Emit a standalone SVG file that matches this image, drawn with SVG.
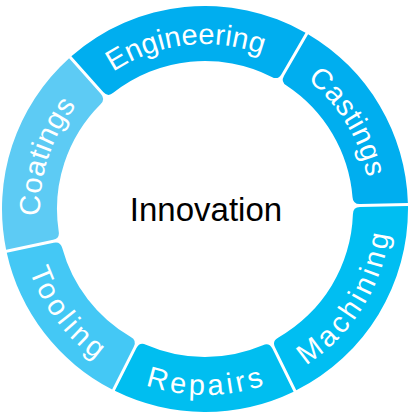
<svg xmlns="http://www.w3.org/2000/svg" width="408" height="413" viewBox="0 0 408 413">
<style>
.lbl{font-family:"Liberation Sans",Arial,Helvetica,sans-serif;font-size:29px;fill:#ffffff;text-anchor:middle}
.cwt{letter-spacing:0.6px}
.ccwt{letter-spacing:3.5px}
.center{font-family:"Liberation Sans",Arial,Helvetica,sans-serif;font-size:33px;fill:#000000;text-anchor:middle}
</style>
<defs>
<path id="cw" d="M0,-165 A165,165 0 0 1 0,165"/>
<path id="ccw" d="M0,186 A186,186 0 0 0 0,-186"/>
</defs>
<rect width="408" height="413" fill="#ffffff"/>
<g id="engineering">
<path transform="translate(205 209) rotate(-131.6)" fill="#00AEEF" d="M202.99,1.5 A203,203 0 0 1 65.16,192.25 L50.09,146.69 Q47.89,140.04 54.46,137.62 A148,148 0 0 0 147.76,8.49 Q147.99,1.5 155,1.5 Z"/>
<text class="lbl" style="letter-spacing:0.1px" transform="translate(205 209) rotate(-96.8)"><textPath href="#cw" startOffset="50%">Engineering</textPath></text>
</g>
<g id="castings">
<path transform="translate(205 209) rotate(-59.9)" fill="#00AEEF" d="M202.99,1.5 A203,203 0 0 1 107.04,172.48 L82.04,131.52 Q78.38,125.54 84.23,121.70 A148,148 0 0 0 147.76,8.49 Q147.99,1.5 155,1.5 Z"/>
<text class="lbl cwt" transform="translate(205 209) rotate(-31.3)"><textPath href="#cw" startOffset="50%">Castings</textPath></text>
</g>
<g id="machining">
<path transform="translate(205 209) rotate(-1.3)" fill="#00BEF2" d="M202.99,1.5 A203,203 0 0 1 87.15,183.34 L66.87,139.84 Q63.90,133.49 70.14,130.33 A148,148 0 0 0 147.76,8.49 Q147.99,1.5 155,1.5 Z"/>
<text class="lbl ccwt" transform="translate(205 209) rotate(32)"><textPath href="#ccw" startOffset="50%">Machining</textPath></text>
</g>
<g id="repairs">
<path transform="translate(205 209) rotate(63.7)" fill="#00BEF0" d="M202.99,1.5 A203,203 0 0 1 123.08,161.43 L94.27,123.05 Q90.06,117.45 95.51,113.06 A148,148 0 0 0 147.76,8.49 Q147.99,1.5 155,1.5 Z"/>
<text class="lbl ccwt" transform="translate(205 209) rotate(89.5)"><textPath href="#ccw" startOffset="50%">Repairs</textPath></text>
</g>
<g id="tooling">
<path transform="translate(205 209) rotate(116.8)" fill="#44C8F5" d="M202.99,1.5 A203,203 0 0 1 128.36,157.26 L98.29,119.86 Q93.90,114.39 99.20,109.84 A148,148 0 0 0 147.76,8.49 Q147.99,1.5 155,1.5 Z"/>
<text class="lbl ccwt" transform="translate(205 209) rotate(142.7)"><textPath href="#ccw" startOffset="50%">Tooling</textPath></text>
</g>
<g id="coatings">
<path transform="translate(205 209) rotate(168)" fill="#5DCBF4" d="M202.99,1.5 A203,203 0 0 1 101.57,175.76 L77.87,134.03 Q74.40,127.94 80.37,124.28 A148,148 0 0 0 147.76,8.49 Q147.99,1.5 155,1.5 Z"/>
<text class="lbl cwt" transform="translate(205 209) rotate(198.3)"><textPath href="#cw" startOffset="50%">Coatings</textPath></text>
</g>
<g id="innovation">
<text class="center" x="206" y="221">Innovation</text>
</g>
</svg>
